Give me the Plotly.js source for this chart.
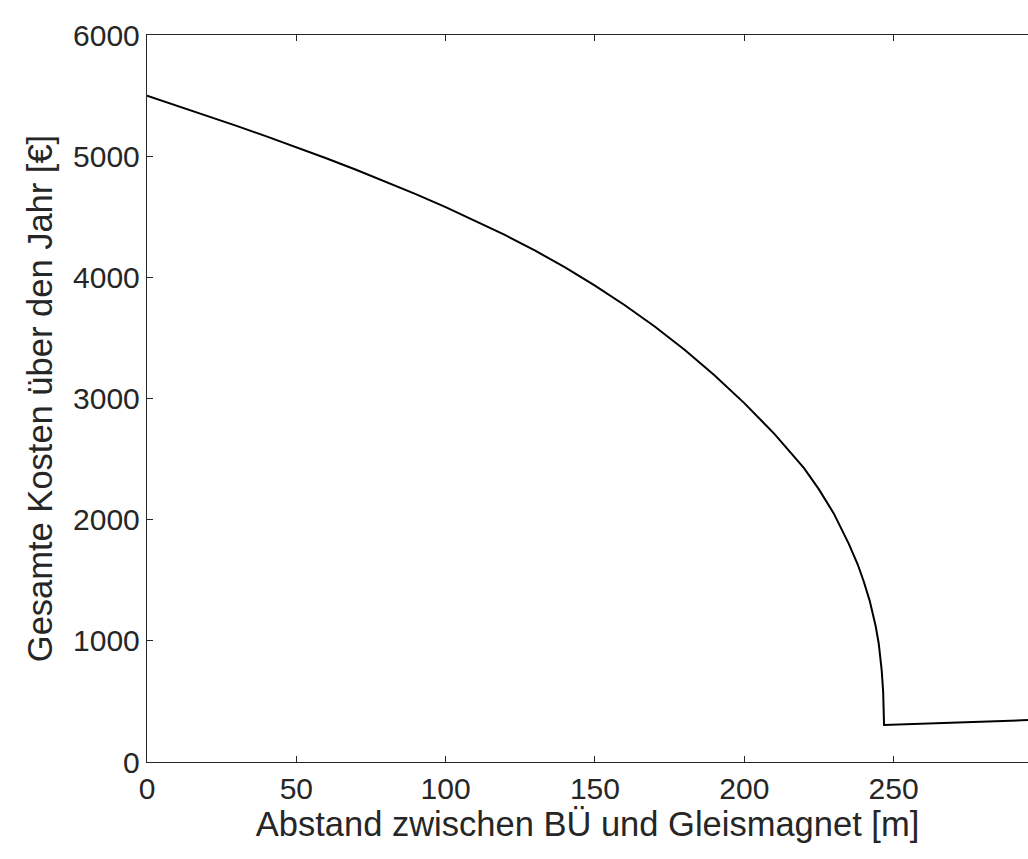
<!DOCTYPE html>
<html>
<head>
<meta charset="utf-8">
<script src="https://cdn.plot.ly/plotly-3.0.1.min.js"></script>
<style>html,body{margin:0;padding:0;background:#fff;}#chart{width:1028px;height:859px;}</style>
</head>
<body>
<div id="chart"></div>
<script>
// Distance between level crossing and track magnet [m]
const abstand = [0, 10, 20, 30, 40, 50, 60, 70, 80, 90, 100, 110, 120, 130, 140, 150, 160, 170, 180, 190, 200, 210, 220, 225, 230, 235, 238, 240, 242, 244, 245, 246, 246.5, 246.8, 260, 280, 295];
// Total annual cost [€]
const kosten = [5500, 5418, 5335, 5250, 5163, 5074, 4983, 4888, 4790, 4687, 4580, 4467, 4348, 4220, 4082, 3932, 3770, 3594, 3402, 3192, 2962, 2710, 2425, 2250, 2050, 1800, 1630, 1490, 1330, 1120, 980, 760, 580, 305, 316, 333, 346];
const yTicks = [0, 1000, 2000, 3000, 4000, 5000, 6000];
const xTicks = [0, 50, 100, 150, 200, 250];

const textColor = '#262626';
const fontFam = 'Liberation Sans, Arial, Helvetica, sans-serif';

Plotly.newPlot('chart', [{
  x: abstand, y: kosten, type: 'scatter', mode: 'lines',
  line: {color: '#000000', width: 2},
  hoverinfo: 'skip'
}], {
  width: 1028, height: 859,
  margin: {l: 147, r: 0, t: 35, b: 97},
  paper_bgcolor: '#ffffff', plot_bgcolor: '#ffffff',
  showlegend: false,
  font: {family: fontFam, color: textColor, size: 30},
  xaxis: {
    range: [0, 295], tickvals: xTicks, ticktext: xTicks.map(String),
    ticks: 'inside', ticklen: 6, tickcolor: textColor, tickwidth: 1,
    showline: true, linecolor: textColor, linewidth: 1.2, mirror: 'ticks',
    showgrid: false, zeroline: false,
    tickfont: {size: 30, color: textColor},
    title: {text: 'Abstand zwischen BÜ und Gleismagnet [m]', font: {size: 34.5, color: textColor}, standoff: 5}
  },
  yaxis: {
    range: [0, 6000], tickvals: yTicks, ticktext: yTicks.map(String),
    ticks: 'inside', ticklen: 6, tickcolor: textColor, tickwidth: 1,
    showline: true, linecolor: textColor, linewidth: 1.2, mirror: false,
    showgrid: false, zeroline: false,
    tickfont: {size: 30, color: textColor},
    title: {text: 'Gesamte Kosten über den Jahr [€]', font: {size: 34.5, color: textColor}, standoff: 10}
  }
}, {staticPlot: true, displayModeBar: false});
</script>
</body>
</html>
